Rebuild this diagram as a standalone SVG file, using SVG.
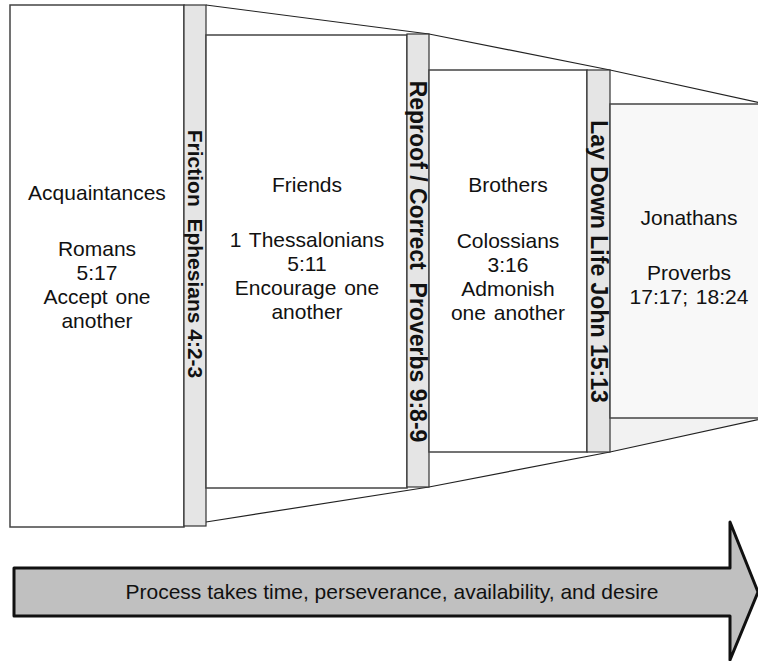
<svg xmlns="http://www.w3.org/2000/svg" width="758" height="661" viewBox="0 0 758 661">
<style>
.box{stroke:#444;stroke-width:1.5}
.bar{fill:#e5e5e5;stroke:#333;stroke-width:1.2}
.edge{fill:none;stroke:#222;stroke-width:1.2}
.t{font-family:"Liberation Sans",Arial,sans-serif;font-size:21px;fill:#111;text-anchor:middle;word-spacing:2px}
.v{font-family:"Liberation Sans",Arial,sans-serif;font-weight:bold;fill:#111;text-anchor:middle;dominant-baseline:central;white-space:pre}
.a{font-family:"Liberation Sans",Arial,sans-serif;font-size:21px;fill:#111;text-anchor:middle}
</style>
<rect width="758" height="661" fill="#fff"/>
<g id="connectors">
<polygon points="610,418 770,418 770,417 610,452" fill="#f2f2f2" stroke="none"/>
<polyline class="edge" points="206,5 429,34 610,70 770,105"/>
<polyline class="edge" points="206,522 429,487 610,452 770,417"/>
</g>
<g id="box1">
<rect class="box" x="10" y="5" width="174" height="522" fill="#fff"/>
<text class="t" x="97" y="200">Acquaintances</text>
<text class="t" x="97" y="256">Romans</text>
<text class="t" x="97" y="280">5:17</text>
<text class="t" x="97" y="304">Accept one</text>
<text class="t" x="97" y="328">another</text>
</g>
<g id="bar1">
<rect class="bar" x="184" y="5" width="22" height="521"/>
<text class="v" font-size="21" xml:space="preserve" transform="translate(195,254) rotate(90)">Friction  Ephesians 4:2-3</text>
</g>
<g id="box2">
<rect class="box" x="206" y="35" width="201" height="453" fill="#fff"/>
<text class="t" x="307" y="192">Friends</text>
<text class="t" x="307" y="247">1 Thessalonians</text>
<text class="t" x="307" y="271">5:11</text>
<text class="t" x="307" y="295">Encourage one</text>
<text class="t" x="307" y="319">another</text>
</g>
<g id="bar2">
<rect class="bar" x="407" y="34" width="22" height="453"/>
<text class="v" font-size="23" xml:space="preserve" transform="translate(418,261.5) rotate(90)">Reproof / Correct  Proverbs 9:8-9</text>
</g>
<g id="box3">
<rect class="box" x="429" y="70" width="158" height="382" fill="#fff"/>
<text class="t" x="508" y="192">Brothers</text>
<text class="t" x="508" y="248">Colossians</text>
<text class="t" x="508" y="272">3:16</text>
<text class="t" x="508" y="296">Admonish</text>
<text class="t" x="508" y="320">one another</text>
</g>
<g id="bar3">
<rect class="bar" x="587" y="70" width="23" height="382"/>
<text class="v" font-size="23" transform="translate(598.5,261.5) rotate(90)">Lay Down Life John 15:13</text>
</g>
<g id="box4">
<rect class="box" x="610" y="104" width="160" height="314" fill="#f8f8f8"/>
<text class="t" x="689" y="225">Jonathans</text>
<text class="t" x="689" y="280">Proverbs</text>
<text class="t" x="689" y="304">17:17; 18:24</text>
</g>
<g id="arrow">
<polygon points="14,568 730,568 730,522 758,592 730,660 730,616 14,616" fill="#c0c0c0" stroke="#111" stroke-width="3" stroke-linejoin="round"/>
<text class="a" x="392" y="599">Process takes time, perseverance, availability, and desire</text>
</g>
</svg>
